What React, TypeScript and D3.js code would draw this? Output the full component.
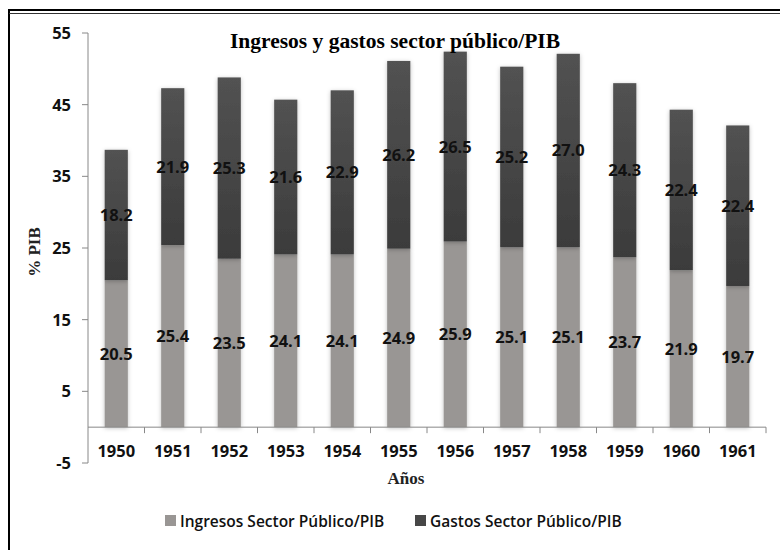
import React, { useRef, useEffect } from 'react';
import * as d3 from 'd3';

const years = ['1950', '1951', '1952', '1953', '1954', '1955', '1956', '1957', '1958', '1959', '1960', '1961'];
const ingresos = [20.5, 25.4, 23.5, 24.1, 24.1, 24.9, 25.9, 25.1, 25.1, 23.7, 21.9, 19.7];
const gastos = [18.2, 21.9, 25.3, 21.6, 22.9, 26.2, 26.5, 25.2, 27.0, 24.3, 22.4, 22.4];
const yTicks = [-5, 5, 15, 25, 35, 45, 55];
const seriesNames = ['Ingresos Sector Público/PIB', 'Gastos Sector Público/PIB'];

const W = 780;
const H = 550;
const sans = '"Open Sans", Calibri, sans-serif';
const serif = '"Liberation Serif", "Times New Roman", serif';

export default function App() {
  const ref = useRef(null);

  useEffect(() => {
    const svg = d3.select(ref.current);
    svg.selectAll('*').remove();

    const defs = svg.append('defs');
    const shadow = defs.append('filter').attr('id', 'shadow').attr('x', '-30%').attr('y', '-10%').attr('width', '160%').attr('height', '120%');
    shadow.append('feDropShadow').attr('dx', 0).attr('dy', 1).attr('stdDeviation', 2).attr('flood-color', '#000').attr('flood-opacity', 0.25);
    const grad = defs.append('linearGradient').attr('id', 'gastosGrad').attr('x1', 0).attr('y1', 0).attr('x2', 0).attr('y2', 1);
    grad.append('stop').attr('offset', '0%').attr('stop-color', '#525252');
    grad.append('stop').attr('offset', '100%').attr('stop-color', '#3b3b3b');

    // frame
    svg.append('line').attr('x1', 9).attr('x2', 9).attr('y1', 9).attr('y2', H).attr('stroke', '#000').attr('stroke-width', 2);
    svg.append('line').attr('x1', 8).attr('x2', W).attr('y1', 10).attr('y2', 10).attr('stroke', '#000').attr('stroke-width', 2);
    svg.append('line').attr('x1', 9).attr('x2', W).attr('y1', 13.5).attr('y2', 13.5).attr('stroke', '#333').attr('stroke-width', 1);

    const left = 88;
    const right = 766;
    const y = d3.scaleLinear().domain([-5, 55]).range([463, 33]);
    const x = d3.scaleBand().domain(years).range([left, right]).paddingInner(0.59).paddingOuter(0.295);
    const step = x.step();

    // y axis
    const yAxis = svg.append('g');
    yAxis.append('line').attr('x1', left).attr('x2', left).attr('y1', y(55)).attr('y2', y(-5)).attr('stroke', '#888');
    yTicks.forEach((t) => {
      yAxis.append('line').attr('x1', left - 6).attr('x2', left).attr('y1', y(t)).attr('y2', y(t)).attr('stroke', '#888');
      yAxis.append('text').attr('x', 71).attr('y', y(t)).attr('dy', '0.36em').attr('text-anchor', 'end')
        .attr('font-family', sans).attr('font-weight', 700).attr('font-size', 16.5).attr('fill', '#111').text(t);
    });

    // bars
    const bars = svg.append('g');
    years.forEach((yr, i) => {
      const x0 = x(yr);
      bars.append('rect').attr('x', x0).attr('width', x.bandwidth())
        .attr('y', y(ingresos[i])).attr('height', y(0) - y(ingresos[i]))
        .attr('fill', '#999694').attr('filter', 'url(#shadow)');
      bars.append('rect').attr('x', x0).attr('width', x.bandwidth())
        .attr('y', y(ingresos[i] + gastos[i])).attr('height', y(ingresos[i]) - y(ingresos[i] + gastos[i]))
        .attr('fill', 'url(#gastosGrad)').attr('filter', 'url(#shadow)');
    });

    // labels
    const labels = svg.append('g').attr('font-family', sans).attr('font-weight', 700).attr('font-size', 16.5)
      .attr('fill', '#111').attr('text-anchor', 'middle');
    years.forEach((yr, i) => {
      const cx = x(yr) + x.bandwidth() / 2;
      labels.append('text').attr('x', cx).attr('y', y(ingresos[i] / 2)).attr('dy', '0.36em').text(ingresos[i].toFixed(1));
      labels.append('text').attr('x', cx).attr('y', y(ingresos[i] + gastos[i] / 2)).attr('dy', '0.36em').text(gastos[i].toFixed(1));
    });

    // x axis
    const xAxis = svg.append('g');
    xAxis.append('line').attr('x1', left).attr('x2', right).attr('y1', y(0)).attr('y2', y(0)).attr('stroke', '#888');
    years.forEach((yr, i) => {
      const tx = left + step * (i + 1);
      xAxis.append('line').attr('x1', tx).attr('x2', tx).attr('y1', y(0)).attr('y2', y(0) + 6).attr('stroke', '#888');
      xAxis.append('text').attr('x', x(yr) + x.bandwidth() / 2).attr('y', 457).attr('text-anchor', 'middle')
        .attr('font-family', sans).attr('font-weight', 700).attr('font-size', 16.5).attr('fill', '#111').text(yr);
    });

    // titles
    svg.append('text').attr('x', 395).attr('y', 48).attr('text-anchor', 'middle').attr('font-family', serif)
      .attr('font-weight', 700).attr('font-size', 21.5).attr('fill', '#000').text('Ingresos y gastos sector público/PIB');
    svg.append('text').attr('transform', `translate(40,252) rotate(-90)`).attr('text-anchor', 'middle')
      .attr('font-family', serif).attr('font-weight', 700).attr('font-size', 17).attr('fill', '#222').text('% PIB');
    svg.append('text').attr('x', 406).attr('y', 484).attr('text-anchor', 'middle').attr('font-family', serif)
      .attr('font-weight', 700).attr('font-size', 17).attr('fill', '#222').text('Años');

    // legend
    const legend = svg.append('g');
    const legendX = [165, 415];
    const legendColors = ['#999694', '#474747'];
    seriesNames.forEach((name, i) => {
      legend.append('rect').attr('x', legendX[i]).attr('y', 515).attr('width', 11).attr('height', 11).attr('fill', legendColors[i]);
      legend.append('text').attr('x', legendX[i] + 15).attr('y', 527).attr('font-family', sans).attr('font-weight', 600)
        .attr('font-size', 15.5).attr('fill', '#111').text(name);
    });
  }, []);

  return (
    <div style={{ position: 'absolute', left: 0, top: 0 }}>
      <svg ref={ref} width={W} height={H} style={{ display: 'block', background: '#fff' }} />
    </div>
  );
}
